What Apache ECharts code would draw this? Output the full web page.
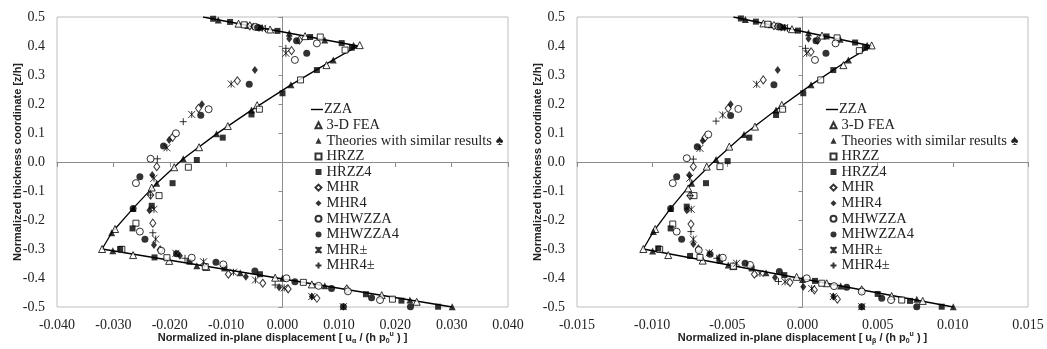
<!DOCTYPE html>
<html>
<head>
<meta charset="utf-8">
<script src="https://cdn.jsdelivr.net/npm/echarts@6/dist/echarts.min.js"></script>
<style>
  html, body { margin: 0; padding: 0; background: #fff; }
  #chart { width: 1047px; height: 349px; }
</style>
</head>
<body>
<div id="chart"></div>
<script>
// every point is [normalized displacement, z/h]; "A" = u_alpha panel, "B" = u_beta panel
const names = ['ZZA', '3-D FEA', 'Theories with similar results \u2660', 'HRZZ', 'HRZZ4',
  'MHR', 'MHR4', 'MHWZZA', 'MHWZZA4', 'MHR\u00b1', 'MHR4\u00b1']

const zzaA = [[-0.0141, 0.5], [0.0134, 0.4], [0.0090, 0.352], [0.0015, 0.266], [-0.0055, 0.179],
  [-0.0117, 0.097], [-0.0176, 0.011], [-0.0223, -0.073], [-0.0265, -0.160], [-0.0303, -0.244],
  [-0.0320, -0.300], [0.0301, -0.500]]
const feaA = [[-0.0078, 0.477], [-0.0022, 0.457], [0.0040, 0.434], [0.0137, 0.403], [0.0078, 0.334],
  [-0.0045, 0.196], [-0.0097, 0.124], [-0.0148, 0.051], [-0.0192, -0.018], [-0.0232, -0.088],
  [-0.0297, -0.231], [-0.0320, -0.300], [-0.0265, -0.321], [-0.0201, -0.341], [-0.0135, -0.362],
  [-0.0013, -0.399], [0.0052, -0.422], [0.0176, -0.459], [0.0238, -0.482]]
const simA = [[-0.0114, 0.490], [-0.0062, 0.471], [0.0012, 0.444], [0.0075, 0.421], [0.0126, 0.403],
  [0.0090, 0.352], [0.0015, 0.266], [-0.0055, 0.179], [-0.0117, 0.097], [-0.0176, 0.011],
  [-0.0223, -0.073], [-0.0265, -0.160], [-0.0303, -0.244], [-0.0301, -0.306], [-0.0152, -0.358],
  [-0.0075, -0.382], [0.0000, -0.401], [0.0075, -0.427], [0.0226, -0.476], [0.0301, -0.499]]
const hrzzA = [[-0.0068, 0.473], [0.0067, 0.431], [0.0111, 0.386], [0.0032, 0.283], [-0.0041, 0.182],
  [-0.0167, -0.018], [-0.0219, -0.116], [-0.0260, -0.211], [-0.0285, -0.301], [-0.0205, -0.330],
  [-0.0137, -0.361], [0.0037, -0.415], [0.0195, -0.473]]
const hrzz4A = [[-0.0123, 0.494], [-0.0093, 0.483], [-0.0040, 0.463], [-0.0009, 0.452], [0.0049, 0.431],
  [0.0105, 0.410], [0.0123, 0.394], [0.0061, 0.317], [0.0000, 0.237], [-0.0055, 0.164],
  [-0.0106, 0.084], [-0.0152, 0.007], [-0.0195, -0.073], [-0.0232, -0.151], [-0.0266, -0.229],
  [-0.0288, -0.300], [-0.0227, -0.329], [-0.0165, -0.344], [-0.0103, -0.367], [-0.0040, -0.387],
  [0.0148, -0.456], [0.0211, -0.478], [0.0276, -0.499]]
const mhrA = [[-0.0058, 0.469], [0.0030, 0.420], [0.0016, 0.384], [-0.0080, 0.280], [-0.0149, 0.185],
  [-0.0195, 0.085], [-0.0223, -0.016], [-0.0234, -0.114], [-0.0230, -0.211], [-0.0217, -0.303],
  [-0.0096, -0.387], [-0.0035, -0.418], [0.0010, -0.438], [0.0061, -0.470], [0.0114, -0.438]]
const mhr4A = [[-0.0052, 0.467], [0.0012, 0.425], [-0.0049, 0.317], [-0.0143, 0.199], [-0.0201, 0.076],
  [-0.0231, -0.045], [-0.0236, -0.166], [-0.0228, -0.286], [-0.0182, -0.323], [-0.0065, -0.396],
  [-0.0006, -0.432], [0.0052, -0.464]]
const mhwA = [[-0.0048, 0.466], [0.0061, 0.409], [0.0022, 0.352], [-0.0131, 0.182], [-0.0189, 0.099],
  [-0.0234, 0.011], [-0.0260, -0.073], [-0.0253, -0.240], [-0.0215, -0.306], [-0.0161, -0.330],
  [-0.0105, -0.353], [0.0007, -0.401], [0.0064, -0.427], [0.0116, -0.446], [0.0173, -0.476]]
const mhw4A = [[-0.0044, 0.464], [0.0025, 0.418], [0.0043, 0.375], [-0.0059, 0.268], [-0.0145, 0.161],
  [-0.0211, 0.055], [-0.0253, -0.051], [-0.0265, -0.160], [-0.0244, -0.266], [-0.0188, -0.316],
  [-0.0118, -0.346], [-0.0049, -0.376], [0.0022, -0.413], [0.0087, -0.436], [0.0158, -0.468],
  [0.0108, -0.499], [0.0227, -0.499]]
const mhrpA = [[-0.0036, 0.461], [0.0006, 0.375], [-0.0091, 0.269], [-0.0161, 0.164], [-0.0205, 0.049],
  [-0.0228, -0.056], [-0.0228, -0.163], [-0.0225, -0.266], [-0.0189, -0.315], [-0.0140, -0.344],
  [-0.0087, -0.380], [-0.0048, -0.407], [0.0003, -0.434], [0.0052, -0.464], [0.0108, -0.499]]
const mhr4pA = [[-0.0030, 0.459], [0.0006, 0.392], [-0.0176, 0.139], [-0.0222, 0.011], [-0.0234, -0.114],
  [-0.0230, -0.244], [-0.0173, -0.332], [-0.0013, -0.424]]

const zzaB = [[-0.0046, 0.5], [0.0046, 0.4], [0.00305, 0.352], [0.00057, 0.266], [-0.00176, 0.179],
  [-0.00389, 0.095], [-0.00575, 0.009], [-0.00737, -0.073], [-0.00877, -0.160], [-0.00992, -0.240],
  [-0.01059, -0.300], [0.01003, -0.500]]
const feaB = [[-0.0026, 0.478], [-0.0007, 0.458], [0.0013, 0.436], [0.0046, 0.402], [0.00272, 0.334],
  [-0.00138, 0.197], [-0.00316, 0.122], [-0.00487, 0.053], [-0.00637, -0.016], [-0.0076, -0.091],
  [-0.0098, -0.231], [-0.01059, -0.300], [-0.00893, -0.321], [-0.00664, -0.340], [-0.0046, -0.359],
  [-0.00039, -0.396], [0.00161, -0.418], [0.00593, -0.462], [0.0080, -0.479]]
const simB = [[-0.0038, 0.491], [-0.0021, 0.473], [0.0004, 0.446], [0.0025, 0.423], [0.0043, 0.403],
  [0.00305, 0.352], [0.00057, 0.266], [-0.00176, 0.179], [-0.00389, 0.095], [-0.00575, 0.009],
  [-0.00737, -0.073], [-0.00877, -0.160], [-0.00992, -0.240], [-0.00997, -0.307], [-0.00494, -0.355],
  [-0.00243, -0.382], [0.0000, -0.405], [0.00254, -0.428], [0.0076, -0.473], [0.01003, -0.499]]
const hrzzB = [[-0.0023, 0.475], [0.0023, 0.428], [0.00378, 0.384], [0.00121, 0.283], [-0.00132, 0.182],
  [-0.00549, -0.016], [-0.00722, -0.116], [-0.00863, -0.214], [-0.0095, -0.301], [-0.00682, -0.329],
  [-0.0046, -0.359], [0.00128, -0.418], [0.0066, -0.476]]
const hrzz4B = [[-0.0041, 0.495], [-0.0031, 0.484], [-0.0013, 0.464], [-0.0003, 0.453], [0.0016, 0.433],
  [0.0035, 0.412], [0.00416, 0.394], [0.00205, 0.317], [0.00005, 0.237], [-0.00176, 0.162],
  [-0.00354, 0.084], [-0.00498, 0.003], [-0.00642, -0.073], [-0.0077, -0.154], [-0.00877, -0.229],
  [-0.0096, -0.298], [-0.00748, -0.324], [-0.00549, -0.340], [-0.00338, -0.367], [-0.00121, -0.390],
  [0.00083, -0.410], [0.0050, -0.455], [0.00715, -0.479], [0.00926, -0.499]]
const mhrB = [[-0.0019, 0.470], [0.0010, 0.420], [0.00057, 0.380], [-0.00261, 0.283], [-0.00494, 0.185],
  [-0.00649, 0.084], [-0.00726, -0.016], [-0.00748, -0.116], [-0.00742, -0.214], [-0.00693, -0.300],
  [-0.0032, -0.387], [-0.00083, -0.415], [0.00079, -0.441], [0.00232, -0.473], [0.00394, -0.442]]
const mhr4B = [[-0.0017, 0.468], [0.0004, 0.425], [-0.00165, 0.317], [-0.00478, 0.199], [-0.00664, 0.073],
  [-0.00753, -0.045], [-0.0077, -0.166], [-0.00726, -0.283], [-0.00553, -0.329], [-0.00183, -0.398],
  [0.00005, -0.430], [0.00205, -0.464]]
const mhwB = [[-0.0016, 0.467], [0.0022, 0.409], [0.00083, 0.352], [-0.00427, 0.183], [-0.00627, 0.095],
  [-0.0077, 0.013], [-0.00863, -0.073], [-0.00837, -0.240], [-0.0069, -0.304], [-0.0053, -0.330],
  [-0.00349, -0.355], [0.00028, -0.401], [0.0021, -0.428], [0.00394, -0.447], [0.00589, -0.476]]
const mhw4B = [[-0.0015, 0.466], [0.0009, 0.418], [0.00156, 0.375], [-0.0019, 0.266], [-0.00478, 0.160],
  [-0.0070, 0.053], [-0.00837, -0.051], [-0.00877, -0.160], [-0.00804, -0.266], [-0.00615, -0.318],
  [-0.00382, -0.349], [-0.00154, -0.378], [0.00294, -0.432], [0.00527, -0.470], [0.00394, -0.499],
  [0.0076, -0.499]]
const mhrpB = [[-0.0012, 0.463], [0.00028, 0.375], [-0.00305, 0.268], [-0.00531, 0.162], [-0.00682, 0.047],
  [-0.0075, -0.056], [-0.0074, -0.163], [-0.00726, -0.266], [-0.0062, -0.313], [-0.00438, -0.349],
  [-0.00283, -0.384], [-0.00116, -0.413], [0.00061, -0.436], [0.00205, -0.464], [0.00394, -0.499]]
const mhr4pB = [[-0.0010, 0.461], [0.0002, 0.392], [-0.00575, 0.141], [-0.00726, 0.010], [-0.00748, -0.116],
  [-0.00742, -0.240], [-0.0057, -0.332], [-0.0016, -0.412]]

// axis ranges: [min, max, interval]
const xRangeA = [-0.04, 0.04, 0.01]
const xRangeB = [-0.015, 0.015, 0.005]
const yRange = [-0.5, 0.5, 0.1]

const STAR = 'path://M0,0L10,10M10,0L0,10M5,0L5,10'
const PLUS = 'path://M5,0L5,10M0,5L10,5'
const DASH = 'path://M0,0L12,0L12,1.4L0,1.4Z'

// marker look of every scatter series, same order as names[1..]
const markers = [
  { symbol: 'triangle', size: 7, filled: false },
  { symbol: 'triangle', size: 7, filled: true },
  { symbol: 'rect', size: 6, filled: false },
  { symbol: 'rect', size: 6, filled: true },
  { symbol: 'diamond', size: [6, 8], filled: false },
  { symbol: 'diamond', size: [6, 8], filled: true },
  { symbol: 'circle', size: 7, filled: false },
  { symbol: 'circle', size: 7, filled: true },
  { symbol: STAR, size: 7, stroke: true },
  { symbol: PLUS, size: 7, stroke: true }
]

const serif = 'Liberation Serif'
const sans = 'Liberation Sans'

function initScatter(name, data, idx, m) {
  let itemStyle
  if (m.stroke) itemStyle = { color: 'none', borderColor: '#000', borderWidth: 1 }
  else if (m.filled) itemStyle = { color: '#000' }
  else itemStyle = { color: '#fff', borderColor: '#000', borderWidth: 1 }
  return {
    name,
    type: 'scatter',
    xAxisIndex: idx * 2,
    yAxisIndex: idx * 2,
    data,
    symbol: m.symbol,
    symbolSize: m.size,
    itemStyle,
    z: 3,
    silent: true
  }
}

function initLine(data, idx) {
  return {
    name: names[0],
    type: 'line',
    xAxisIndex: idx * 2,
    yAxisIndex: idx * 2,
    data,
    showSymbol: false,
    symbol: 'none',
    lineStyle: { color: '#000', width: 1.3 },
    itemStyle: { color: '#000' },
    z: 2,
    silent: true
  }
}

function xAxes(range, gridIndex, letter) {
  const base = { type: 'value', gridIndex, min: range[0], max: range[1], interval: range[2] }
  return [{
    ...base,
    position: 'bottom',
    axisLine: { show: false, onZero: false },
    axisTick: { show: false },
    splitLine: { show: false },
    axisLabel: {
      color: '#222', fontFamily: serif, fontSize: 14, margin: 11,
      formatter: v => v.toFixed(3)
    },
    name: '{t|Normalized in-plane displacement [ u}{sub|' + letter + '}{t| / (h p}{sub|0}{sup|u}{t| ) ]}',
    nameLocation: 'middle',
    nameGap: 24,
    nameMoveOverlap: false,
    nameTextStyle: {
      rich: {
        t: { fontFamily: sans, fontWeight: 'bold', fontSize: 11, color: '#222', lineHeight: 14 },
        sub: { fontFamily: sans, fontWeight: 'bold', fontSize: 7, color: '#222', lineHeight: 14, verticalAlign: 'bottom' },
        sup: { fontFamily: sans, fontWeight: 'bold', fontSize: 7, color: '#222', lineHeight: 14, verticalAlign: 'top' }
      }
    }
  }, {
    ...base,
    position: 'bottom',
    axisLine: { show: true, onZero: true, onZeroAxisIndex: gridIndex * 2, lineStyle: { color: '#8c8c8c', width: 1 } },
    axisTick: { show: true, length: 5, lineStyle: { color: '#8c8c8c' } },
    axisLabel: { show: false },
    splitLine: { show: false }
  }]
}

function yAxes(gridIndex) {
  const base = { type: 'value', gridIndex, min: yRange[0], max: yRange[1], interval: yRange[2] }
  return [{
    ...base,
    position: 'left',
    axisLine: { show: false, onZero: false },
    axisTick: { show: false },
    splitLine: { show: false },
    axisLabel: {
      color: '#222', fontFamily: serif, fontSize: 14, margin: 12,
      formatter: v => v.toFixed(1)
    },
    name: 'Normalized thickness coordinate [z/h]',
    nameLocation: 'middle',
    nameRotate: 90,
    nameGap: 34,
    nameMoveOverlap: false,
    nameTextStyle: { fontFamily: sans, fontWeight: 'bold', fontSize: 11, color: '#222' }
  }, {
    ...base,
    position: 'left',
    axisLine: { show: true, onZero: true, onZeroAxisIndex: gridIndex * 2, lineStyle: { color: '#8c8c8c', width: 1 } },
    axisTick: { show: true, length: 4, lineStyle: { color: '#8c8c8c' } },
    axisLabel: { show: false },
    splitLine: { show: false }
  }]
}

const legendText = { fontFamily: serif, fontSize: 14.5, color: '#222', lineHeight: 14 }

// line entry and marker entries need different icon boxes, so two legends per panel
function legendsAt(left) {
  return [{
    left: left - 2,
    top: 97,
    itemWidth: 12,
    itemHeight: 6,
    selectedMode: false,
    data: [{ name: names[0], icon: DASH }],
    textStyle: { ...legendText, padding: [0, 0, 0, -4] }
  }, {
    left,
    top: 112.7,
    orient: 'vertical',
    itemWidth: 6,
    itemHeight: 6,
    itemGap: 0.6,
    selectedMode: false,
    data: names.slice(1),
    textStyle: legendText
  }]
}

const panelA = [feaA, simA, hrzzA, hrzz4A, mhrA, mhr4A, mhwA, mhw4A, mhrpA, mhr4pA]
const panelB = [feaB, simB, hrzzB, hrzz4B, mhrB, mhr4B, mhwB, mhw4B, mhrpB, mhr4pB]

const series = [initLine(zzaA, 0), initLine(zzaB, 1)]
panelA.forEach((d, i) => series.push(initScatter(names[i + 1], d, 0, markers[i])))
panelB.forEach((d, i) => series.push(initScatter(names[i + 1], d, 1, markers[i])))

const chart = echarts.init(document.getElementById('chart'), null, { renderer: 'canvas' })

const gridStyle = {
  show: true, borderColor: '#bfbfbf', borderWidth: 1,
  top: 17, width: 451, height: 290, containLabel: false, outerBoundsMode: 'none'
}

chart.setOption({
  animation: false,
  backgroundColor: '#fff',
  grid: [
    { ...gridStyle, left: 57 },
    { ...gridStyle, left: 577 }
  ],
  legend: [...legendsAt(308), ...legendsAt(823)],
  xAxis: [...xAxes(xRangeA, 0, '\u03b1'), ...xAxes(xRangeB, 1, '\u03b2')],
  yAxis: [...yAxes(0), ...yAxes(1)],
  series
})
</script>
</body>
</html>
